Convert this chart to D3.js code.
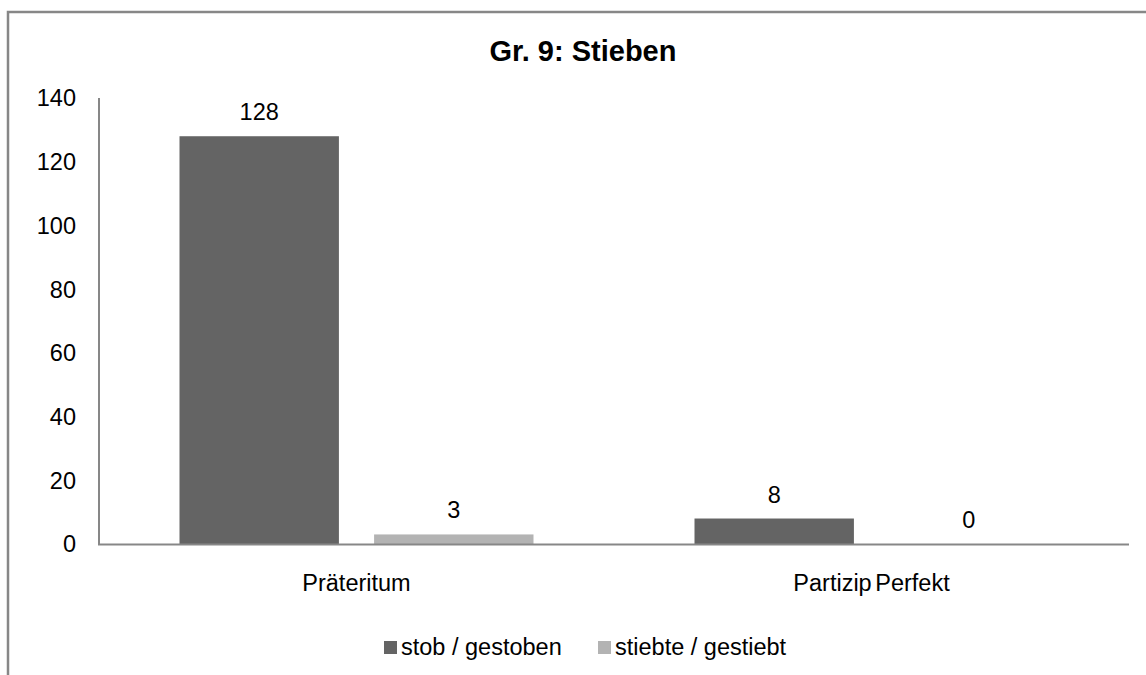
<!DOCTYPE html>
<html>
<head>
<meta charset="utf-8">
<script src="https://cdn.jsdelivr.net/npm/d3@7"></script>
<style>
  body { margin: 0; background: #fff; }
  svg { display: block; font-family: "Liberation Sans", Arial, sans-serif; }
</style>
</head>
<body>
<svg class="chart"></svg>
<script>
// chart data
var title = "Gr. 9: Stieben";
var categories = ["Präteritum", "Partizip Perfekt"];
var seriesNames = ["stob / gestoben", "stiebte / gestiebt"];
var seriesColors = ["#646464", "#b3b3b3"];
var stob = [128, 8];
var stiebte = [3, 0];
var yTicks = [0, 20, 40, 60, 80, 100, 120, 140];

var width = 1146, height = 675;
var svg = d3.select(".chart").attr("width", width).attr("height", height);

// outer chart border (cut off on the right and bottom)
svg.append("path")
  .attr("d", "M8,680 L8,12 L1160,12")
  .attr("fill", "none")
  .attr("stroke", "#878787")
  .attr("stroke-width", 2.5);

var margin = {left: 99, right: 17, top: 98, bottom: 131};
var plotW = width - margin.left - margin.right;
var plotH = height - margin.top - margin.bottom;

var g = svg.append("g").attr("transform", "translate(" + margin.left + "," + margin.top + ")");

var x0 = d3.scaleBand().domain(categories).range([0, plotW]).paddingInner(0).paddingOuter(0);
// within a category: bar, gap, bar with gap width 100% of a bar
var x1 = d3.scaleBand().domain(seriesNames).range([80.5, 434.5]).paddingInner(32 / 177).paddingOuter(0);
var y = d3.scaleLinear().domain([0, 140]).range([plotH, 0]);

var rows = categories.map(function(c, i) {
  return {cat: c, values: [stob[i], stiebte[i]]};
});

// tick labels
g.selectAll(".ytick")
  .data(yTicks)
  .enter().append("text")
  .attr("class", "ytick")
  .attr("x", -23)
  .attr("y", function(d) { return y(d); })
  .attr("dy", "0.36em")
  .attr("text-anchor", "end")
  .attr("font-size", "23.5px")
  .attr("fill", "#000")
  .text(function(d) { return d; });

// bars
var groups = g.selectAll(".cat")
  .data(rows)
  .enter().append("g")
  .attr("class", "cat")
  .attr("transform", function(d) { return "translate(" + x0(d.cat) + ",0)"; });

groups.selectAll("rect")
  .data(function(d) { return d.values.map(function(v, i) { return {name: seriesNames[i], value: v, i: i}; }); })
  .enter().append("rect")
  .attr("x", function(d) { return x1(d.name); })
  .attr("width", x1.bandwidth())
  .attr("y", function(d) { return y(d.value); })
  .attr("height", function(d) { return plotH - y(d.value); })
  .attr("fill", function(d) { return seriesColors[d.i]; });

groups.selectAll(".lbl")
  .data(function(d) { return d.values.map(function(v, i) { return {name: seriesNames[i], value: v}; }); })
  .enter().append("text")
  .attr("class", "lbl")
  .attr("x", function(d) { return x1(d.name) + x1.bandwidth() / 2; })
  .attr("y", function(d) { return y(d.value) - 16; })
  .attr("text-anchor", "middle")
  .attr("font-size", "23.5px")
  .attr("fill", "#000")
  .text(function(d) { return d.value; });

// axes lines
g.append("line")
  .attr("x1", 0).attr("x2", 0).attr("y1", 0).attr("y2", plotH + 1)
  .attr("stroke", "#878787").attr("stroke-width", 2);
g.append("line")
  .attr("x1", -1).attr("x2", plotW).attr("y1", plotH + 0.5).attr("y2", plotH + 0.5)
  .attr("stroke", "#878787").attr("stroke-width", 2);

// category labels
g.selectAll(".xlbl")
  .data(categories)
  .enter().append("text")
  .attr("class", "xlbl")
  .attr("x", function(d) { return x0(d) + x0.bandwidth() / 2; })
  .attr("y", plotH + 46.5)
  .attr("text-anchor", "middle")
  .attr("font-size", "23.5px")
  .attr("word-spacing", "-3px")
  .attr("fill", "#000")
  .text(function(d) { return d; });

// title
svg.append("text")
  .attr("x", 583)
  .attr("y", 61)
  .attr("text-anchor", "middle")
  .attr("font-size", "29px")
  .attr("font-weight", "bold")
  .attr("fill", "#000")
  .text(title);

// legend
var legendX = [384, 598];
var legend = svg.selectAll(".leg")
  .data(seriesNames)
  .enter().append("g")
  .attr("class", "leg")
  .attr("transform", function(d, i) { return "translate(" + legendX[i] + ",641)"; });
legend.append("rect")
  .attr("width", 13).attr("height", 13)
  .attr("fill", function(d, i) { return seriesColors[i]; });
legend.append("text")
  .attr("x", 17)
  .attr("y", 14)
  .attr("font-size", "23.5px")
  .attr("fill", "#000")
  .text(function(d) { return d; });
</script>
</body>
</html>
